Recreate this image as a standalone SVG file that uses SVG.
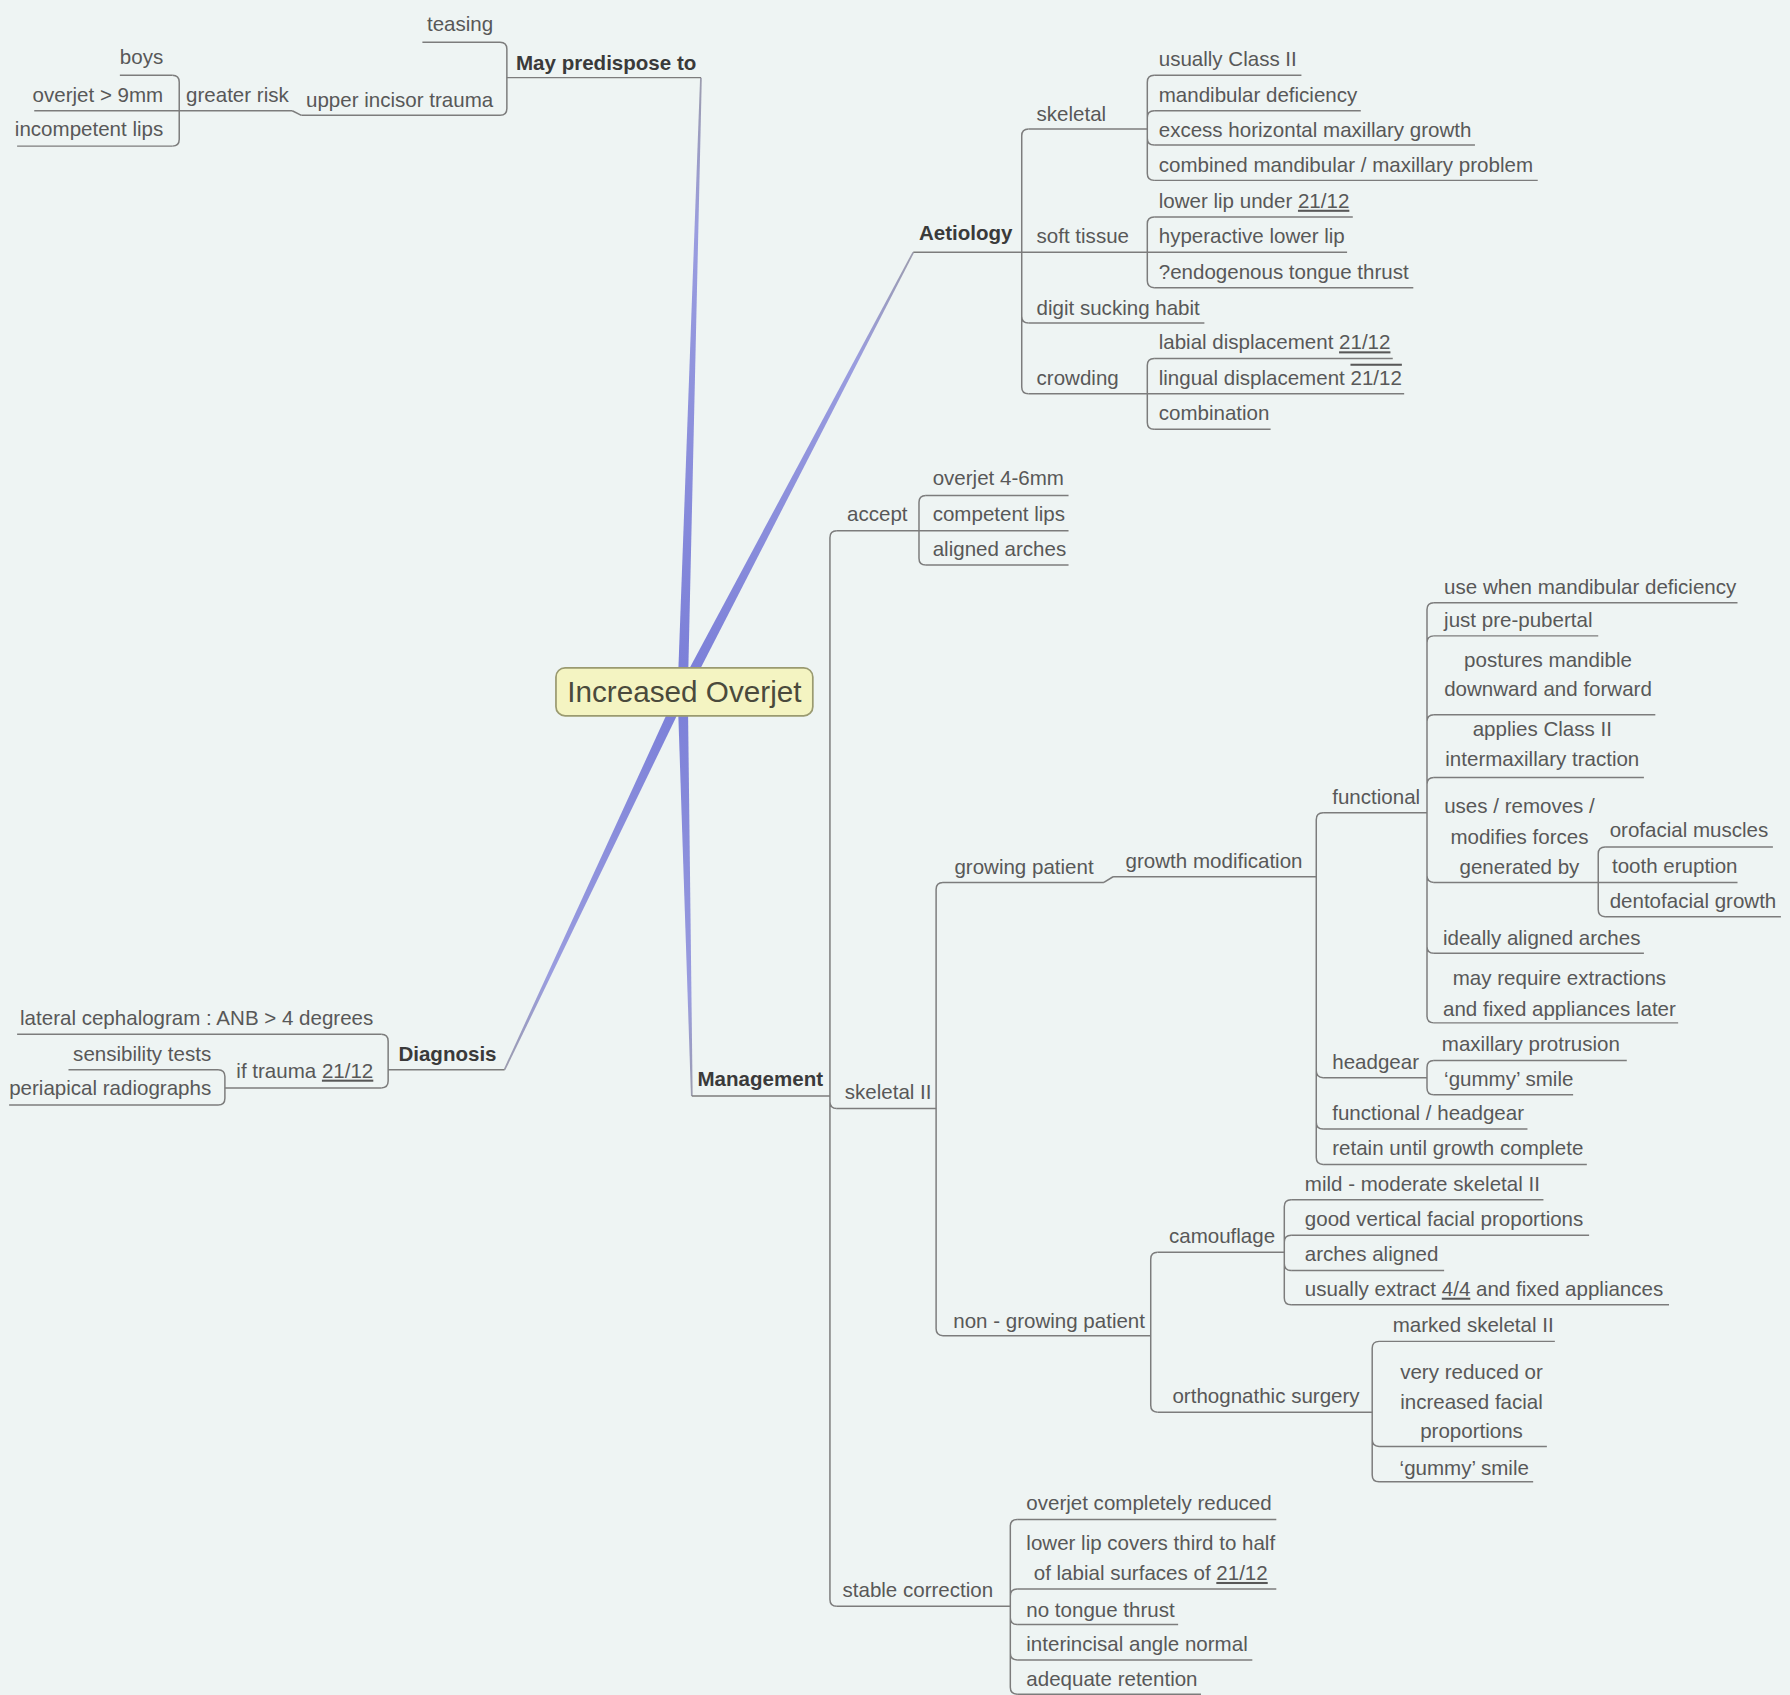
<svg xmlns="http://www.w3.org/2000/svg" width="1790" height="1695" viewBox="0 0 1790 1695">
<defs>
<style>
.t{font-family:"Liberation Sans",Arial,sans-serif;font-size:18px;fill:#585858}
.b{font-weight:bold;fill:#3a3a3a}
.e{text-anchor:end}
.m{text-anchor:middle}
.u{fill:none;stroke:#7c7c7c;stroke-width:1.3}
.c{fill:none;stroke:#7c7c7c;stroke-width:1.3}
.ul{text-decoration:underline}
.ol{text-decoration:overline}
</style>
<linearGradient id="gMay" gradientUnits="userSpaceOnUse" x1="598" y1="606" x2="614" y2="68"><stop offset="0" stop-color="#7a7ed8"/><stop offset="0.75" stop-color="#9a9ddf"/><stop offset="1" stop-color="#9c9cae"/></linearGradient>
<linearGradient id="gAet" gradientUnits="userSpaceOnUse" x1="598" y1="606" x2="800" y2="221"><stop offset="0" stop-color="#7a7ed8"/><stop offset="0.75" stop-color="#9a9ddf"/><stop offset="1" stop-color="#9c9cae"/></linearGradient>
<linearGradient id="gDia" gradientUnits="userSpaceOnUse" x1="598" y1="606" x2="442" y2="937"><stop offset="0" stop-color="#7a7ed8"/><stop offset="0.75" stop-color="#9a9ddf"/><stop offset="1" stop-color="#9c9cae"/></linearGradient>
<linearGradient id="gMan" gradientUnits="userSpaceOnUse" x1="598" y1="606" x2="606" y2="960"><stop offset="0" stop-color="#7a7ed8"/><stop offset="0.75" stop-color="#9a9ddf"/><stop offset="1" stop-color="#9c9cae"/></linearGradient>
</defs>
<rect width="1790" height="1695" fill="#eef4f3"/>
<g transform="scale(1.1416)">
<g id="connectors">
<polygon fill="url(#gMay)" points="602.5,606.1 614.75,68 613.25,68 593.5,605.9"/>
<polygon fill="url(#gAet)" points="601.98,608.09 800.66,221.35 799.34,220.65 594.02,603.91"/>
<polygon fill="url(#gDia)" points="593.93,604.08 441.32,936.68 442.68,937.32 602.07,607.92"/>
<polygon fill="url(#gMan)" points="593.5,606.1 605.25,960.02 606.75,959.98 602.5,605.9"/>
<path class="c" d="M438 37Q444 37 444 43V95Q444 101 438 101"/>
<path class="c" d="M256 97L264 101"/>
<path class="c" d="M151 66Q157 66 157 72V122Q157 128 151 128"/>
<path class="c" d="M334 906Q340 906 340 912V947Q340 953 334 953"/>
<path class="c" d="M191 937Q197 937 197 943V962Q197 968 191 968"/>
<path class="c" d="M901 113Q895 113 895 119V339Q895 345 901 345M895 277Q895 283 901 283"/>
<path class="c" d="M1011 66Q1005 66 1005 72V152Q1005 158 1011 158M1005 103Q1005 97 1011 97M1005 121Q1005 127 1011 127"/>
<path class="c" d="M1011 190Q1005 190 1005 196V246Q1005 252 1011 252"/>
<path class="c" d="M1011 314Q1005 314 1005 320V370Q1005 376 1011 376"/>
<path class="c" d="M733 465Q727 465 727 471V1401Q727 1407 733 1407M727 965Q727 971 733 971"/>
<path class="c" d="M811 434Q805 434 805 440V489Q805 495 811 495"/>
<path class="c" d="M826 773Q820 773 820 779V1164Q820 1170 826 1170"/>
<path class="c" d="M967 773L975 768"/>
<path class="c" d="M1159 712Q1153 712 1153 718V1014Q1153 1020 1159 1020M1153 938Q1153 944 1159 944M1153 983Q1153 989 1159 989"/>
<path class="c" d="M1256 528Q1250 528 1250 534V890Q1250 896 1256 896M1250 563Q1250 557 1256 557M1250 632Q1250 626 1256 626M1250 687Q1250 681 1256 681M1250 767Q1250 773 1256 773M1250 829Q1250 835 1256 835"/>
<path class="c" d="M1406 742Q1400 742 1400 748V797Q1400 803 1406 803"/>
<path class="c" d="M1256 929Q1250 929 1250 935V953Q1250 959 1256 959"/>
<path class="c" d="M1014 1097Q1008 1097 1008 1103V1231Q1008 1237 1014 1237"/>
<path class="c" d="M1131 1051Q1125 1051 1125 1057V1137Q1125 1143 1131 1143M1125 1088Q1125 1082 1131 1082M1125 1107Q1125 1113 1131 1113"/>
<path class="c" d="M1208 1175Q1202 1175 1202 1181V1292Q1202 1298 1208 1298M1202 1261Q1202 1267 1208 1267"/>
<path class="c" d="M891 1331Q885 1331 885 1337V1478Q885 1484 891 1484M885 1398Q885 1392 891 1392M885 1417Q885 1423 891 1423M885 1448Q885 1454 891 1454"/>
</g>
<g id="n-center"><rect x="487" y="585" width="225" height="42" rx="8" fill="#f4f4c2" stroke="#9a9a70" stroke-width="1.5"/><text class="t m" x="599.5" y="615" style="font-size:26px;fill:#4a4a3c">Increased Overjet</text></g>

<g id="n-may"><text class="t b" x="452" y="61">May predispose to</text><path class="u" d="M444 68H614"/></g>
<g id="n-teasing"><text class="t e" x="432" y="27">teasing</text><path class="u" d="M370 37H438"/></g>
<g id="n-trauma"><text class="t e" x="432" y="94">upper incisor trauma</text><path class="u" d="M264 101H438"/></g>
<g id="n-greater"><text class="t" x="163" y="89">greater risk</text><path class="u" d="M157 97H256"/></g>
<g id="n-boys"><text class="t e" x="143" y="56">boys</text><path class="u" d="M105 66H151"/></g>
<g id="n-oj9"><text class="t e" x="143" y="89">overjet &gt; 9mm</text><path class="u" d="M30 97H157"/></g>
<g id="n-inclips"><text class="t e" x="143" y="119">incompetent lips</text><path class="u" d="M15 128H151"/></g>

<g id="n-diag"><text class="t b" x="349" y="929">Diagnosis</text><path class="u" d="M340 937H442"/></g>
<g id="n-lateral"><text class="t e" x="327" y="898">lateral cephalogram : ANB &gt; 4 degrees</text><path class="u" d="M15 906H334"/></g>
<g id="n-iftrauma"><text class="t e" x="327" y="944">if trauma <tspan class="ul">21/12</tspan></text><path class="u" d="M197 953H334"/></g>
<g id="n-sens"><text class="t e" x="185" y="929">sensibility tests</text><path class="u" d="M60 937H191"/></g>
<g id="n-peri"><text class="t e" x="185" y="959">periapical radiographs</text><path class="u" d="M8 968H191"/></g>

<g id="n-aet"><text class="t b" x="805" y="210">Aetiology</text><path class="u" d="M800 221H895"/></g>
<g id="n-skeletal"><text class="t" x="908" y="106">skeletal</text><path class="u" d="M901 113H1005"/></g>
<g id="n-soft"><text class="t" x="908" y="213">soft tissue</text><path class="u" d="M895 221H1005"/></g>
<g id="n-digit"><text class="t" x="908" y="276">digit sucking habit</text><path class="u" d="M901 283H1055"/></g>
<g id="n-crowding"><text class="t" x="908" y="337">crowding</text><path class="u" d="M901 345H1005"/></g>
<g id="n-class2"><text class="t" x="1015" y="58">usually Class II</text><path class="u" d="M1011 66H1140"/></g>
<g id="n-mandef"><text class="t" x="1015" y="89">mandibular deficiency</text><path class="u" d="M1011 97H1192"/></g>
<g id="n-excess"><text class="t" x="1015" y="120">excess horizontal maxillary growth</text><path class="u" d="M1011 127H1292"/></g>
<g id="n-combined"><text class="t" x="1015" y="151">combined mandibular / maxillary problem</text><path class="u" d="M1011 158H1347"/></g>
<g id="n-lowerlip"><text class="t" x="1015" y="182">lower lip under <tspan class="ul">21/12</tspan></text><path class="u" d="M1011 190H1185"/></g>
<g id="n-hyper"><text class="t" x="1015" y="213">hyperactive lower lip</text><path class="u" d="M1005 221H1180"/></g>
<g id="n-endo"><text class="t" x="1015" y="244">?endogenous tongue thrust</text><path class="u" d="M1011 252H1238"/></g>
<g id="n-labial"><text class="t" x="1015" y="306">labial displacement <tspan class="ul">21/12</tspan></text><path class="u" d="M1011 314H1220"/></g>
<g id="n-lingual"><text class="t" x="1015" y="337">lingual displacement <tspan class="ol">21/12</tspan></text><path class="u" d="M1005 345H1230"/></g>
<g id="n-combination"><text class="t" x="1015" y="368">combination</text><path class="u" d="M1011 376H1113"/></g>

<g id="n-man"><text class="t b" x="611" y="951">Management</text><path class="u" d="M606 960H727"/></g>
<g id="n-accept"><text class="t" x="742" y="456">accept</text><path class="u" d="M733 465H805"/></g>
<g id="n-oj46"><text class="t" x="817" y="425">overjet 4-6mm</text><path class="u" d="M811 434H936"/></g>
<g id="n-complips"><text class="t" x="817" y="456">competent lips</text><path class="u" d="M805 465H936"/></g>
<g id="n-aligned"><text class="t" x="817" y="487">aligned arches</text><path class="u" d="M811 495H936"/></g>
<g id="n-sk2"><text class="t" x="740" y="963">skeletal II</text><path class="u" d="M733 971H820"/></g>
<g id="n-growing"><text class="t" x="836" y="766">growing patient</text><path class="u" d="M826 773H967"/></g>
<g id="n-growthmod"><text class="t" x="986" y="760">growth modification</text><path class="u" d="M975 768H1153"/></g>
<g id="n-functional"><text class="t" x="1167" y="704">functional</text><path class="u" d="M1159 712H1250"/></g>
<g id="n-usewhen"><text class="t" x="1265" y="520">use when mandibular deficiency</text><path class="u" d="M1256 528H1522"/></g>
<g id="n-prepub"><text class="t" x="1265" y="549">just pre-pubertal</text><path class="u" d="M1256 557H1400"/></g>
<g id="n-postures"><text class="t m" x="1356" y="584">postures mandible</text><text class="t m" x="1356" y="610">downward and forward</text><path class="u" d="M1256 626H1450"/></g>
<g id="n-applies"><text class="t m" x="1351" y="645">applies Class II</text><text class="t m" x="1351" y="671">intermaxillary traction</text><path class="u" d="M1256 681H1440"/></g>
<g id="n-uses"><text class="t m" x="1331" y="712">uses / removes /</text><text class="t m" x="1331" y="739">modifies forces</text><text class="t m" x="1331" y="766">generated by</text><path class="u" d="M1256 773H1400"/></g>
<g id="n-orofacial"><text class="t" x="1410" y="733">orofacial muscles</text><path class="u" d="M1406 742H1553"/></g>
<g id="n-tooth"><text class="t" x="1412" y="765">tooth eruption</text><path class="u" d="M1400 773H1522"/></g>
<g id="n-dento"><text class="t" x="1410" y="795">dentofacial growth</text><path class="u" d="M1406 803H1560"/></g>
<g id="n-ideally"><text class="t" x="1264" y="828">ideally aligned arches</text><path class="u" d="M1256 835H1440"/></g>
<g id="n-mayreq"><text class="t m" x="1366" y="863">may require extractions</text><text class="t m" x="1366" y="890">and fixed appliances later</text><path class="u" d="M1256 896H1470"/></g>
<g id="n-headgear"><text class="t" x="1167" y="936">headgear</text><path class="u" d="M1159 944H1250"/></g>
<g id="n-maxpro"><text class="t" x="1263" y="921">maxillary protrusion</text><path class="u" d="M1256 929H1425"/></g>
<g id="n-gummy1"><text class="t" x="1265" y="951">‘gummy’ smile</text><path class="u" d="M1256 959H1378"/></g>
<g id="n-funchead"><text class="t" x="1167" y="981">functional / headgear</text><path class="u" d="M1159 989H1338"/></g>
<g id="n-retain"><text class="t" x="1167" y="1012">retain until growth complete</text><path class="u" d="M1159 1020H1390"/></g>
<g id="n-nongrowing"><text class="t" x="835" y="1163">non - growing patient</text><path class="u" d="M826 1170H1008"/></g>
<g id="n-camo"><text class="t" x="1024" y="1089">camouflage</text><path class="u" d="M1014 1097H1125"/></g>
<g id="n-mild"><text class="t" x="1143" y="1043">mild - moderate skeletal II</text><path class="u" d="M1131 1051H1352"/></g>
<g id="n-goodvert"><text class="t" x="1143" y="1074">good vertical facial proportions</text><path class="u" d="M1131 1082H1392"/></g>
<g id="n-archal"><text class="t" x="1143" y="1105">arches aligned</text><path class="u" d="M1131 1113H1265"/></g>
<g id="n-extract"><text class="t" x="1143" y="1135">usually extract <tspan class="ul">4/4</tspan> and fixed appliances</text><path class="u" d="M1131 1143H1462"/></g>
<g id="n-ortho"><text class="t" x="1027" y="1229">orthognathic surgery</text><path class="u" d="M1014 1237H1202"/></g>
<g id="n-marked"><text class="t" x="1220" y="1167">marked skeletal II</text><path class="u" d="M1208 1175H1362"/></g>
<g id="n-veryred"><text class="t m" x="1289" y="1208">very reduced or</text><text class="t m" x="1289" y="1234">increased facial</text><text class="t m" x="1289" y="1260">proportions</text><path class="u" d="M1208 1267H1355"/></g>
<g id="n-gummy2"><text class="t" x="1226" y="1292">‘gummy’ smile</text><path class="u" d="M1208 1298H1343"/></g>
<g id="n-stable"><text class="t" x="738" y="1399">stable correction</text><path class="u" d="M733 1407H885"/></g>
<g id="n-ojred"><text class="t" x="899" y="1323">overjet completely reduced</text><path class="u" d="M891 1331H1118"/></g>
<g id="n-lipcovers"><text class="t m" x="1008" y="1358">lower lip covers third to half</text><text class="t m" x="1008" y="1384">of labial surfaces of <tspan class="ul">21/12</tspan></text><path class="u" d="M891 1392H1118"/></g>
<g id="n-notongue"><text class="t" x="899" y="1416">no tongue thrust</text><path class="u" d="M891 1423H1032"/></g>
<g id="n-interinc"><text class="t" x="899" y="1446">interincisal angle normal</text><path class="u" d="M891 1454H1097"/></g>
<g id="n-retention"><text class="t" x="899" y="1477">adequate retention</text><path class="u" d="M891 1484H1052"/></g>
</g>
</svg>
